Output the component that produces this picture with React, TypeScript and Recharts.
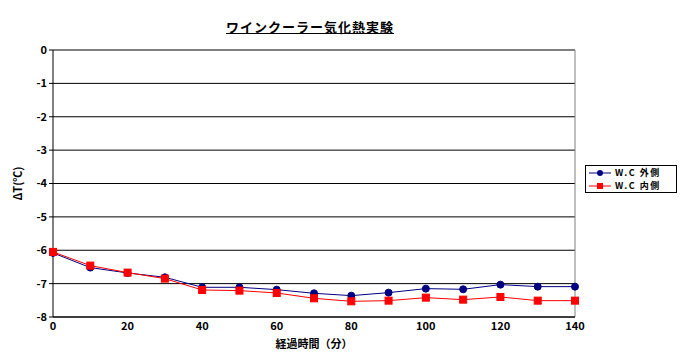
import { CartesianGrid, Label, Line, LineChart, ReferenceLine, XAxis, YAxis } from "recharts"

const minutes = [0, 10, 20, 30, 40, 50, 60, 70, 80, 90, 100, 110, 120, 130, 140]
const outside = [-6.08, -6.52, -6.68, -6.81, -7.11, -7.11, -7.18, -7.29, -7.36, -7.27, -7.15, -7.17, -7.03, -7.09, -7.09]
const inside = [-6.05, -6.46, -6.67, -6.85, -7.19, -7.21, -7.28, -7.44, -7.53, -7.51, -7.42, -7.48, -7.4, -7.51, -7.51]
const xTicks = [0, 20, 40, 60, 80, 100, 120, 140]
const yTicks = [0, -1, -2, -3, -4, -5, -6, -7, -8]
const seriesNames = ["W.C 外側", "W.C 内側"]

const data = minutes.map((m, i) => ({ m, outside: outside[i], inside: inside[i] }))

const font = "'Noto Sans CJK JP', 'DejaVu Sans', sans-serif"
const navy = "#000080"
const red = "#ff0000"

const Square = (props: any) => {
  const { cx, cy, index } = props
  return <rect key={`sq-${index}`} x={cx - 3.5} y={cy - 3.5} width={7} height={7} fill={red} stroke={red} />
}

// legend drawn by hand so it doesn't squeeze the plot area
const LegendBox = () => (
  <div
    style={{
      position: "absolute",
      left: 585,
      top: 165,
      border: "1px solid #000",
      width: 92,
      height: 28,
      background: "#fff",
      fontFamily: font,
      fontWeight: 700,
      fontSize: 9,
      letterSpacing: 1.5,
      lineHeight: "13px",
      boxSizing: "border-box",
    }}
  >
    {seriesNames.map((n, i) => (
      <div key={n} style={{ display: "flex", alignItems: "center", paddingLeft: 3, height: 13 }}>
        <svg width={22} height={10}>
          <line x1={0} y1={5} x2={22} y2={5} stroke={i === 0 ? navy : red} strokeWidth={1} />
          {i === 0 ? <circle cx={11} cy={5} r={3} fill={navy} /> : <rect x={8} y={2} width={6} height={6} fill={red} />}
        </svg>
        <span style={{ marginLeft: 4 }}>{n}</span>
      </div>
    ))}
  </div>
)

export default function App() {
  return (
    <div style={{ position: "absolute", left: 0, top: 0, width: 682, height: 363, background: "#fff" }}>
      <div
        style={{
          position: "absolute",
          left: 0,
          width: 620,
          top: 17,
          textAlign: "center",
          fontFamily: font,
          fontWeight: 700,
          fontSize: 13,
          textDecoration: "underline",
          letterSpacing: 1,
        }}
      >
        ワインクーラー気化熱実験
      </div>
      <LineChart width={682} height={363} data={data} margin={{ top: 50, right: 107, bottom: 16, left: 13 }}>
        <CartesianGrid horizontal vertical={false} stroke="#000" strokeDasharray="" />
        <XAxis
          dataKey="m"
          type="number"
          domain={[0, 140]}
          ticks={xTicks}
          height={30}
          tickSize={3}
          axisLine={{ stroke: "#000" }}
          tickLine={false}
          tick={{ fill: "#000", fontSize: 11, fontWeight: 700, fontFamily: font }}
        >
          <Label value="経過時間（分）" position="center" dy={12} fill="#000" fontSize={11} fontWeight={700} fontFamily={font} />
        </XAxis>
        <YAxis
          type="number"
          domain={[-8, 0]}
          ticks={yTicks}
          width={40}
          tickSize={4}
          axisLine={{ stroke: "#000" }}
          tickLine={{ stroke: "#000" }}
          tick={{ fill: "#000", fontSize: 11, fontWeight: 700, fontFamily: font }}
        >
          <Label value="ΔT(℃)" angle={-90} position="center" dx={-15} fill="#000" fontSize={11} fontWeight={700} fontFamily={font} />
        </YAxis>
        <ReferenceLine x={140} stroke="#808080" />
        <Line
          dataKey="outside"
          name={seriesNames[0]}
          stroke={navy}
          strokeWidth={1}
          dot={{ r: 3.5, fill: navy, stroke: navy }}
          isAnimationActive={false}
        />
        <Line
          dataKey="inside"
          name={seriesNames[1]}
          stroke={red}
          strokeWidth={1}
          dot={Square}
          isAnimationActive={false}
        />
      </LineChart>
      <LegendBox />
    </div>
  )
}
